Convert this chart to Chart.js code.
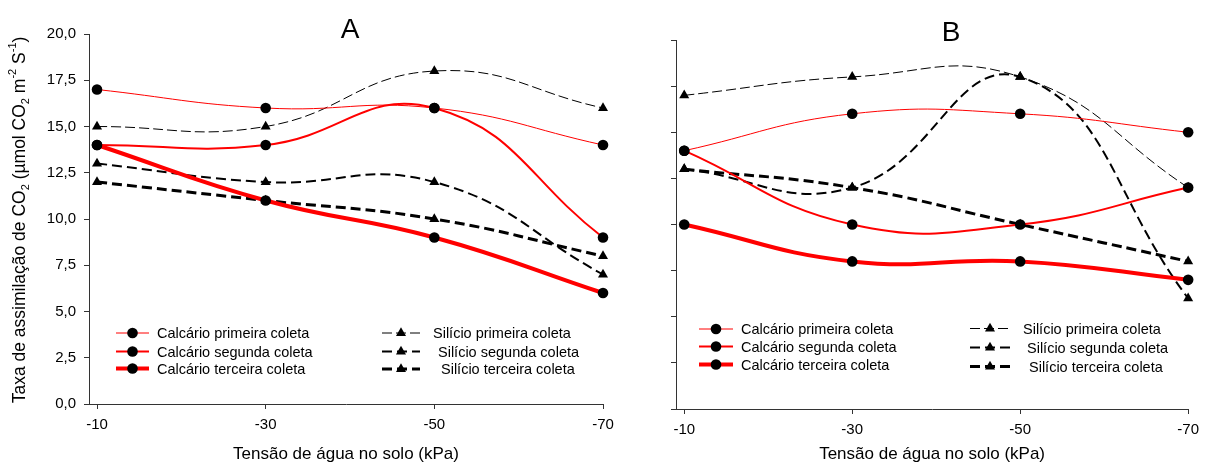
<!DOCTYPE html>
<html>
<head>
<meta charset="utf-8">
<script src="https://cdn.jsdelivr.net/npm/chart.js@4.4.0/dist/chart.umd.min.js"></script>
<style>
  body { margin: 0; background: #fff; }
  #wrap { position: relative; width: 1206px; height: 471px; overflow: hidden; background: #fff; }
  #chartA { position: absolute; left: 0; top: 0; }
  #chartB { position: absolute; left: 610px; top: 0; }
</style>
</head>
<body>
<div id="wrap">
  <canvas id="chartA" width="623" height="471"></canvas>
  <canvas id="chartB" width="596" height="471"></canvas>
</div>
<script>
// ----- Dados -----
const tensao = [-10, -30, -50, -70];
const nomesSeries = [
  "Calcário primeira coleta",
  "Calcário segunda coleta",
  "Calcário terceira coleta",
  "Silício primeira coleta",
  "Silício segunda coleta",
  "Silício terceira coleta"
];
const yTicks = [0, 2.5, 5, 7.5, 10, 12.5, 15, 17.5, 20];

// Painel A
const calPrimeiraA = [17, 16, 16, 14];
const calSegundaA = [14, 14, 16, 9];
const calTerceiraA = [14, 11, 9, 6];
const silPrimeiraA = [15, 15, 18, 16];
const silSegundaA = [13, 12, 12, 7];
const silTerceiraA = [12, 11, 10, 8];

// Painel B
const calPrimeiraB = [14, 16, 16, 15];
const calSegundaB = [14, 10, 10, 12];
const calTerceiraB = [10, 8, 8, 7];
const silPrimeiraB = [17, 18, 18, 12];
const silSegundaB = [13, 12, 18, 6];
const silTerceiraB = [13, 12, 10, 8];

const FONT = "'Liberation Sans', Arial, sans-serif";

// estilo de cada serie (mesma ordem de nomesSeries)
const estilos = [
  { borderColor: "#ff0000", borderWidth: 1, borderDash: [], pointStyle: "circle", pointRadius: 5.3 },
  { borderColor: "#ff0000", borderWidth: 2, borderDash: [], pointStyle: "circle", pointRadius: 5.3 },
  { borderColor: "#ff0000", borderWidth: 4, borderDash: [], pointStyle: "circle", pointRadius: 5.3 },
  { borderColor: "#000000", borderWidth: 1, borderDash: [10, 4], pointStyle: "triangle", pointRadius: 5.8 },
  { borderColor: "#000000", borderWidth: 2, borderDash: [10, 5], pointStyle: "triangle", pointRadius: 5.8 },
  { borderColor: "#000000", borderWidth: 3, borderDash: [10, 5], pointStyle: "triangle", pointRadius: 5.8 }
];

function montarDatasets(series) {
  return series.map((vals, i) => ({
    label: nomesSeries[i],
    data: tensao.map((x, j) => ({ x: x, y: vals[j] })),
    borderColor: estilos[i].borderColor,
    borderWidth: estilos[i].borderWidth,
    borderDash: estilos[i].borderDash,
    pointStyle: estilos[i].pointStyle,
    pointRadius: estilos[i].pointRadius,
    pointBackgroundColor: "#000",
    pointBorderColor: "#000",
    pointBorderWidth: 0,
    tension: 0.45,
    fill: false,
    clip: false
  }));
}

// ----- Plugins -----
// letra do painel (A / B)
const letraPlugin = {
  id: "letra",
  afterDraw(chart, args, opts) {
    const ctx = chart.ctx;
    ctx.save();
    ctx.font = "28px " + FONT;
    ctx.fillStyle = "#000";
    ctx.textAlign = "center";
    ctx.textBaseline = "middle";
    ctx.fillText(opts.text, opts.x, opts.y);
    ctx.restore();
  }
};

// legenda em duas colunas dentro da area do grafico
const legendaPlugin = {
  id: "legenda",
  afterDraw(chart, args, opts) {
    const ctx = chart.ctx;
    chart.data.datasets.forEach((ds, i) => {
      const col = i < 3 ? 0 : 1;
      const row = i % 3;
      const c = opts.cols[col];
      const y = c.rows[row];
      ctx.save();
      ctx.strokeStyle = ds.borderColor;
      ctx.lineWidth = ds.borderWidth;
      ctx.setLineDash(ds.borderDash || []);
      ctx.beginPath();
      ctx.moveTo(c.x1, y);
      ctx.lineTo(c.x2, y);
      ctx.stroke();
      ctx.setLineDash([]);
      ctx.fillStyle = "#000";
      Chart.helpers.drawPoint(ctx, { pointStyle: ds.pointStyle, radius: ds.pointRadius, borderWidth: 0, rotation: 0 }, (c.x1 + c.x2) / 2, y);
      ctx.font = "14.5px " + FONT;
      ctx.textAlign = "left";
      ctx.textBaseline = "middle";
      ctx.fillText(ds.label, c.textX[row], y + 1);
      ctx.restore();
    });
  }
};

// titulo do eixo Y com subscrito / sobrescrito
const tituloYPlugin = {
  id: "tituloY",
  afterDraw(chart, args, opts) {
    if (!opts.show) return;
    const partes = [
      ["Taxa de assimilação de CO", 0],
      ["2", 1],
      [" (µmol CO", 0],
      ["2", 1],
      [" m", 0],
      ["-2", -1],
      [" S", 0],
      ["-1", -1],
      [")", 0]
    ];
    const ctx = chart.ctx;
    const fNormal = "17.5px " + FONT;
    const fPeq = "11px " + FONT;
    ctx.save();
    ctx.translate(opts.x, opts.y);
    ctx.rotate(-Math.PI / 2);
    ctx.fillStyle = "#000";
    ctx.textBaseline = "middle";
    ctx.textAlign = "left";
    let total = 0;
    partes.forEach(p => {
      ctx.font = p[1] === 0 ? fNormal : fPeq;
      total += ctx.measureText(p[0]).width;
    });
    let x = -total / 2;
    partes.forEach(p => {
      ctx.font = p[1] === 0 ? fNormal : fPeq;
      const dy = p[1] === 1 ? 6 : (p[1] === -1 ? -7 : 0);
      ctx.fillText(p[0], x, dy);
      x += ctx.measureText(p[0]).width;
    });
    ctx.restore();
  }
};

function criarGrafico(id, series, cfg) {
  const ctx = document.getElementById(id).getContext("2d");
  return new Chart(ctx, {
    type: "line",
    data: { datasets: montarDatasets(series) },
    options: {
      responsive: false,
      animation: false,
      devicePixelRatio: 1,
      layout: { padding: cfg.padding },
      scales: {
        x: {
          type: "linear",
          reverse: true,
          min: -70,
          max: cfg.xMax,
          afterBuildTicks: s => { s.ticks = tensao.map(v => ({ value: v })); },
          afterFit: s => { s.height = cfg.xHeight; },
          ticks: {
            color: "#000",
            font: { family: FONT, size: 15 },
            padding: 7,
            maxRotation: 0,
            callback: v => String(v)
          },
          grid: { drawOnChartArea: false, drawTicks: true, tickLength: 5, color: "#333" },
          border: { display: true, color: "#333", width: 1 },
          title: {
            display: true,
            text: "Tensão de água no solo (kPa)",
            color: "#000",
            font: { family: FONT, size: 17 },
            padding: { top: 4, bottom: 4 }
          }
        },
        y: {
          min: 0,
          max: 20,
          afterBuildTicks: s => { s.ticks = yTicks.map(v => ({ value: v })); },
          afterFit: s => { s.width = cfg.yWidth; },
          ticks: {
            display: cfg.yLabels,
            color: "#000",
            font: { family: FONT, size: 15 },
            padding: 8,
            callback: v => v.toFixed(1).replace(".", ",")
          },
          grid: { drawOnChartArea: false, drawTicks: true, tickLength: 5, color: "#333" },
          border: { display: true, color: "#333", width: 1 }
        }
      },
      plugins: {
        legend: { display: false },
        tooltip: { enabled: false },
        letra: cfg.letra,
        legenda: cfg.legenda,
        tituloY: cfg.tituloY
      }
    },
    plugins: [letraPlugin, legendaPlugin, tituloYPlugin]
  });
}

criarGrafico("chartA",
  [calPrimeiraA, calSegundaA, calTerceiraA, silPrimeiraA, silSegundaA, silTerceiraA],
  {
    padding: { left: 0, right: 20, top: 34, bottom: 2 },
    xMax: -9.05,
    xHeight: 65,
    yWidth: 89,
    yLabels: true,
    letra: { text: "A", x: 350, y: 30 },
    tituloY: { show: true, x: 20, y: 220 },
    legenda: {
      cols: [
        { x1: 116, x2: 149, rows: [333, 351.5, 368.5], textX: [157, 157, 157] },
        { x1: 382, x2: 420, rows: [333, 351.5, 369], textX: [433, 438, 441] }
      ]
    }
  });

criarGrafico("chartB",
  [calPrimeiraB, calSegundaB, calTerceiraB, silPrimeiraB, silSegundaB, silTerceiraB],
  {
    padding: { left: 0, right: 16.5, top: 40, bottom: 2 },
    xMax: -9.02,
    xHeight: 60,
    yWidth: 66,
    yLabels: false,
    letra: { text: "B", x: 341, y: 33 },
    tituloY: { show: false },
    legenda: {
      cols: [
        { x1: 89, x2: 123, rows: [329, 346.5, 364.5], textX: [131, 131, 131] },
        { x1: 360, x2: 400, rows: [328.5, 347.5, 366.5], textX: [413, 417, 419] }
      ]
    }
  });
</script>
</body>
</html>
